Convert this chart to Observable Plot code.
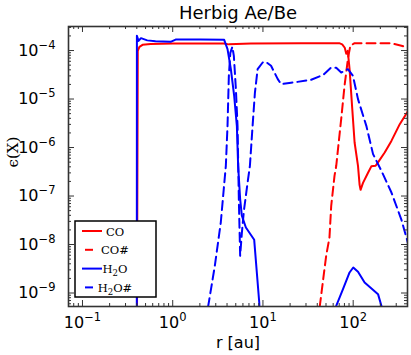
<!DOCTYPE html>
<html><head><meta charset="utf-8">
<script src="https://cdn.jsdelivr.net/npm/d3@7"></script>
<script src="https://cdn.jsdelivr.net/npm/@observablehq/plot@0.6"></script>
<style>body{margin:0;background:#fff}#chart{width:411px;height:355px}</style>
</head><body><div id="chart"></div>
<script>
const titleText = "Herbig Ae/Be";
const xLabelText = "r [au]";
const yLabelText = "ϵ(X)";
const xTickValues = [0.1, 1, 10, 100];
const xTickLabels = ["10⁻¹", "10⁰", "10¹", "10²"];
const yTickValues = [1e-9, 1e-8, 1e-7, 1e-6, 1e-5, 1e-4];
const yTickLabels = ["10⁻⁹", "10⁻⁸", "10⁻⁷", "10⁻⁶", "10⁻⁵", "10⁻⁴"];
const seriesNames = ["CO", "CO#", "H2O", "H2O#"];

// CO (gas)
const coR = [0.401, 0.410, 0.428, 0.463, 0.568, 1.0, 3.68, 4.19, 7.36, 26.5, 70.0, 75.6, 80.7, 83.8, 87.1, 91.2, 97.7, 103.7, 113.1, 117.8, 120.8, 128.5, 146.1, 158.9, 177.4, 191.7, 223.5, 265.3, 328.3, 407];
const coV = [1e-10, 9.9e-5, 1.19e-4, 1.31e-4, 1.37e-4, 1.39e-4, 1.39e-4, 1.34e-4, 1.39e-4, 1.42e-4, 1.42e-4, 1.34e-4, 1.14e-4, 8.55e-5, 9.86e-5, 4.13e-5, 6.28e-6, 1.27e-6, 4.2e-7, 1.70e-7, 1.34e-7, 1.87e-7, 3.01e-7, 4.09e-7, 4.2e-7, 5.19e-7, 7.88e-7, 1.37e-6, 3.03e-6, 5.71e-6];
// CO# (ice)
const coIceR = [40.7, 43.4, 50.2, 54.6, 57.1, 62.1, 64.9, 73.7, 80.2, 87.5, 92.9, 102.8, 158.9, 265.5, 342.8, 407];
const coIceV = [2.67e-10, 6.9e-10, 5.85e-9, 1.39e-8, 6.28e-8, 2.61e-7, 4.2e-7, 3.91e-6, 1.87e-5, 6.74e-5, 1.25e-4, 1.41e-4, 1.42e-4, 1.41e-4, 1.25e-4, 1.14e-4];
// H2O (gas)
const h2oR = [0.400, 0.401, 0.418, 0.445, 0.522, 0.645, 0.948, 1.077, 2.04, 3.72, 4.05, 4.41, 4.80, 5.14, 5.31, 5.59, 5.84, 6.47, 8.00, 9.10, 9.38, 57.1, 64.9, 77.1, 91.2, 100.2, 113.1, 133.9, 188.6, 205.5, 221.8, 407];
const h2oV = [1e-10, 2.01e-4, 1.58e-4, 1.80e-4, 1.62e-4, 1.56e-4, 1.51e-4, 1.68e-4, 1.68e-4, 1.66e-4, 1.07e-4, 4.13e-5, 1.16e-5, 2.80e-6, 4.2e-7, 8.63e-8, 3.91e-8, 2.24e-8, 1.25e-8, 6.37e-10, 1e-10, 1e-10, 5.45e-10, 1.20e-9, 2.65e-9, 3.36e-9, 2.74e-9, 1.64e-9, 9.48e-10, 5.45e-10, 1e-10, 1e-10];
// H2O# (ice)
const h2oIceR = [2.32, 2.53, 2.93, 3.41, 3.88, 4.05, 4.19, 4.35, 4.58, 4.76, 5.01, 5.23, 5.41, 5.59, 5.84, 6.15, 6.76, 7.17, 7.68, 8.15, 8.73, 9.93, 10.8, 12.3, 14.6, 15.9, 20.5, 34.2, 46.5, 57.1, 64.9, 73.7, 87.5, 99.5, 113.1, 139.9, 166.1, 205.5, 265.5, 342.8, 407];
const h2oIceV = [2.67e-10, 6.9e-10, 3.64e-9, 2.84e-8, 4.2e-7, 2.8e-6, 3.0e-5, 8.97e-5, 1.19e-4, 7.78e-5, 1.62e-5, 2.8e-6, 7.96e-8, 5.85e-9, 1.74e-8, 4.95e-8, 1.90e-7, 4.2e-7, 2.8e-6, 1.36e-5, 4.13e-5, 5.66e-5, 5.85e-5, 4.84e-5, 2.57e-5, 2.03e-5, 2.16e-5, 2.49e-5, 3.15e-5, 4.46e-5, 4.4e-5, 3.52e-5, 4.13e-5, 3.0e-5, 9.95e-6, 2.8e-6, 7.31e-7, 3.31e-7, 1.18e-7, 3.23e-8, 1.03e-8];

const rows = (rs, vs) => rs.map((r, i) => ({r, v: vs[i]}));
const coData = rows(coR, coV), coIceData = rows(coIceR, coIceV);
const h2oData = rows(h2oR, h2oV), h2oIceData = rows(h2oIceR, h2oIceV);

const W = 411, H = 355;
const mL = 68, mR = 4, mT = 26, mB = 49;
const fw = W - mL - mR, fh = H - mT - mB;
const xDomain = [0.07, 400], yDomain = [5.27e-10, 3.13e-4];
const xAll = d3.scaleLog().domain(xDomain).ticks().filter(d => d > xDomain[0] && d < xDomain[1]);
const yAll = d3.scaleLog().domain(yDomain).ticks().filter(d => d > yDomain[0] && d < yDomain[1]);
const isMajor = d => Math.abs(Math.log10(d) - Math.round(Math.log10(d))) < 1e-9;
const xMaj = xAll.filter(isMajor), xMin = xAll.filter(d => !isMajor(d));
const yMaj = yAll.filter(isMajor), yMin = yAll.filter(d => !isMajor(d));
const tc = "#333";
const dash = "9,5";

const svg = Plot.plot({
  width: W, height: H,
  marginLeft: mL, marginRight: mR, marginTop: mT, marginBottom: mB,
  style: {fontFamily: "DejaVu Sans", fontSize: "16px", background: "white", color: "#000", overflow: "visible"},
  x: {type: "log", domain: xDomain, ticks: xTickValues, tickSize: 0, tickPadding: 10, label: null,
      tickFormat: d => xTickLabels[xTickValues.indexOf(d)]},
  y: {type: "log", domain: yDomain, ticks: yTickValues, tickSize: 0, tickPadding: 13, label: null,
      tickFormat: d => yTickLabels[yTickValues.indexOf(d)]},
  marks: [
    Plot.line(coData, {x: "r", y: "v", stroke: "#ff0000", strokeWidth: 2, clip: true}),
    Plot.line(coIceData, {x: "r", y: "v", stroke: "#ff0000", strokeWidth: 2, strokeDasharray: dash, clip: true}),
    Plot.line(h2oData, {x: "r", y: "v", stroke: "#0000ff", strokeWidth: 2, clip: true}),
    Plot.line(h2oIceData, {x: "r", y: "v", stroke: "#0000ff", strokeWidth: 2, strokeDasharray: dash, clip: true}),
    Plot.tickX(xMaj, {x: d => d, stroke: tc, strokeWidth: 1, insetTop: fh - 6}),
    Plot.tickX(xMaj, {x: d => d, stroke: tc, strokeWidth: 1, insetBottom: fh - 6}),
    Plot.tickX(xMin, {x: d => d, stroke: tc, strokeWidth: 1, insetTop: fh - 3}),
    Plot.tickX(xMin, {x: d => d, stroke: tc, strokeWidth: 1, insetBottom: fh - 3}),
    Plot.tickY(yMaj, {y: d => d, stroke: tc, strokeWidth: 1, insetRight: fw - 6}),
    Plot.tickY(yMaj, {y: d => d, stroke: tc, strokeWidth: 1, insetLeft: fw - 6}),
    Plot.tickY(yMin, {y: d => d, stroke: tc, strokeWidth: 1, insetRight: fw - 3}),
    Plot.tickY(yMin, {y: d => d, stroke: tc, strokeWidth: 1, insetLeft: fw - 3}),
    Plot.frame({stroke: tc, strokeWidth: 1.6}),
    Plot.text([titleText], {frameAnchor: "top", lineAnchor: "middle", dy: -13, fontSize: 18, fontFamily: "DejaVu Sans", fill: "#000"}),
    Plot.text([xLabelText], {frameAnchor: "bottom", lineAnchor: "middle", dy: 36, fontSize: 16, fontFamily: "DejaVu Sans", fill: "#000"}),
    Plot.text([yLabelText], {frameAnchor: "left", lineAnchor: "middle", dx: -55, dy: 1, rotate: -90, fontSize: 15, fontFamily: "DejaVu Serif", fill: "#000"})
  ]
});

// render tick label exponents as real superscripts
const supMap = {"⁻": "−", "⁰": "0", "¹": "1", "²": "2", "³": "3", "⁴": "4", "⁵": "5", "⁶": "6", "⁷": "7", "⁸": "8", "⁹": "9"};
svg.querySelectorAll("text").forEach(t => {
  const s = t.textContent;
  const m = s.match(/^10([⁻⁰¹²³⁴⁵⁶⁷⁸⁹]+)$/);
  if (!m) return;
  const exp = [...m[1]].map(c => supMap[c]).join("");
  while (t.firstChild) t.removeChild(t.firstChild);
  const ns = "http://www.w3.org/2000/svg";
  const a = document.createElementNS(ns, "tspan"); a.textContent = "10"; t.appendChild(a);
  const b = document.createElementNS(ns, "tspan");
  b.setAttribute("font-size", "11.5"); b.setAttribute("dy", "-7"); b.textContent = exp; t.appendChild(b);
});

// legend (inside frame, lower left)
const g = d3.select(svg).append("g").attr("class", "legend");
const lx = 75, ly = 221, lw = 81, lh = 76;
g.append("rect").attr("x", lx).attr("y", ly).attr("width", lw).attr("height", lh)
  .attr("fill", "white").attr("stroke", "#000").attr("stroke-width", 1.5);
const colors = ["#ff0000", "#ff0000", "#0000ff", "#0000ff"];
const dashed = [false, true, false, true];
seriesNames.forEach((name, i) => {
  const cy = 231 + i * 18.8;
  if (dashed[i]) {
    g.append("line").attr("x1", 85).attr("x2", 93).attr("y1", cy).attr("y2", cy)
      .attr("stroke", colors[i]).attr("stroke-width", 2);
  } else {
    g.append("line").attr("x1", 82).attr("x2", 102).attr("y1", cy).attr("y2", cy)
      .attr("stroke", colors[i]).attr("stroke-width", 2);
  }
  const t = g.append("text").attr("x", 115).attr("y", cy + 4.5)
    .attr("font-family", "DejaVu Serif").attr("font-size", 11.5).attr("fill", "#000");
  const m = name.match(/^H2O(#?)$/);
  if (m) {
    t.append("tspan").text("H");
    t.append("tspan").attr("font-size", 8.5).attr("dy", 3).text("2");
    t.append("tspan").attr("dy", -3).text("O" + m[1]);
  } else {
    t.text(name);
  }
});

document.getElementById("chart").appendChild(svg);
</script>
</body></html>
